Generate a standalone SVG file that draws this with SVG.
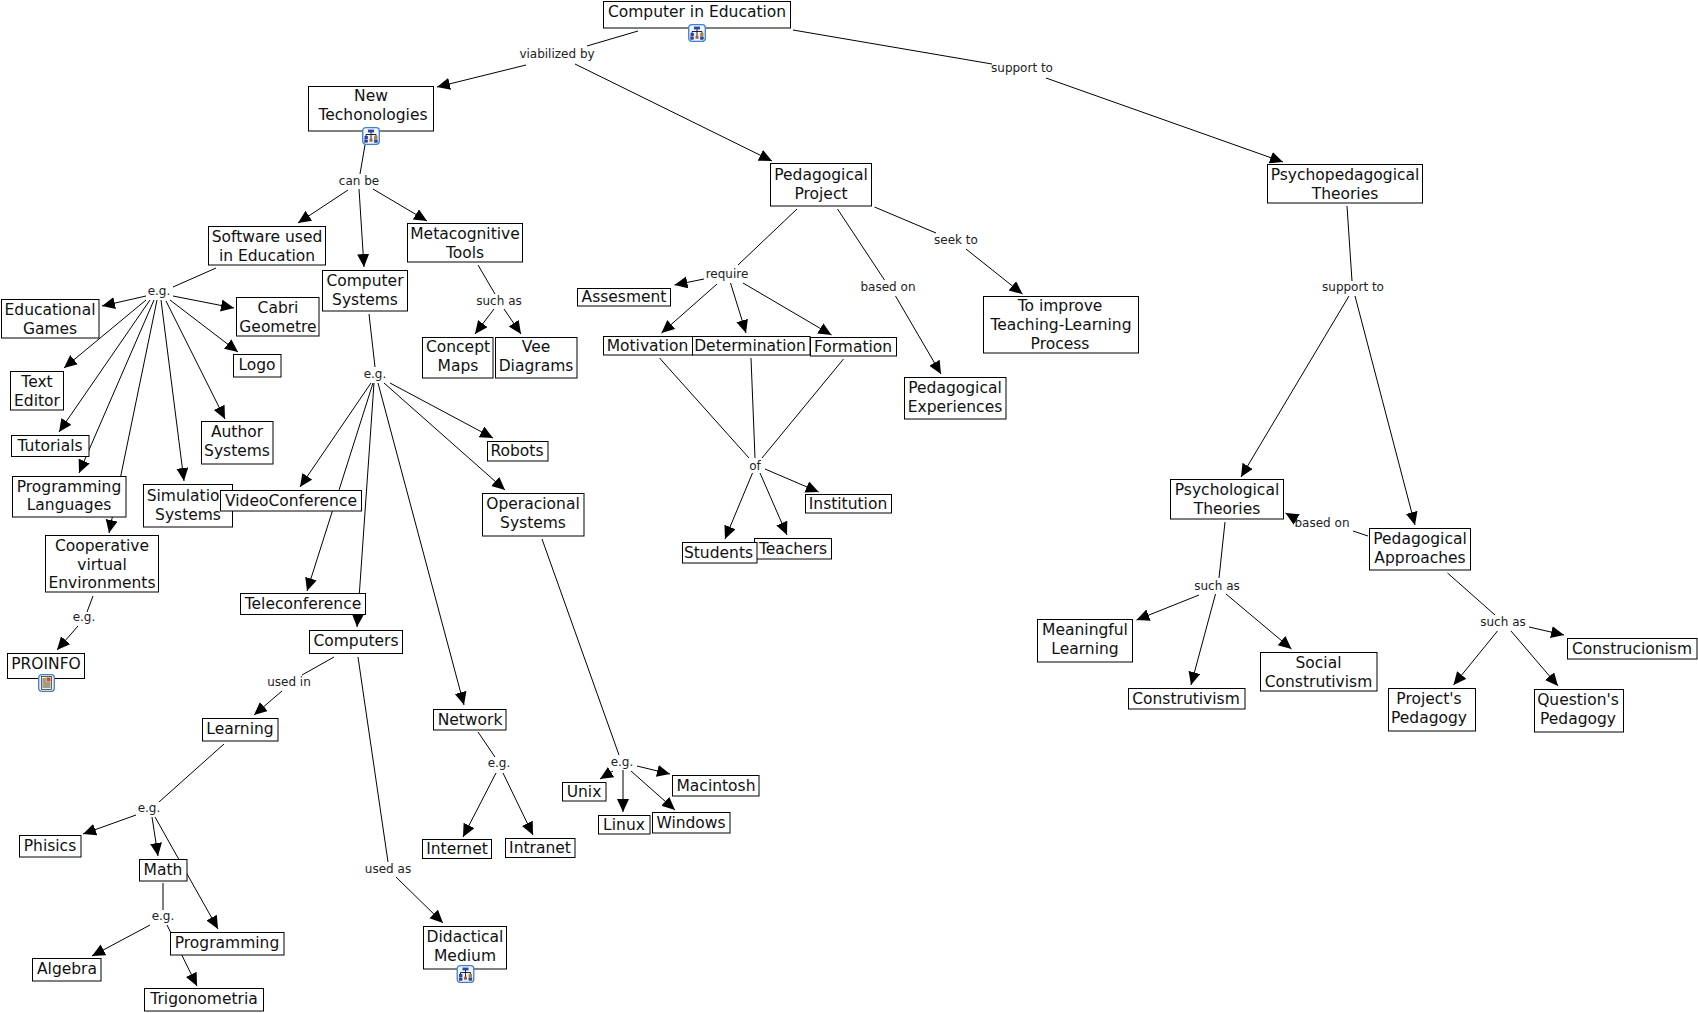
<svg xmlns="http://www.w3.org/2000/svg" xmlns:xlink="http://www.w3.org/1999/xlink" width="1698" height="1013" viewBox="0 0 1698 1013">
<style>
text{font-family:"DejaVu Sans","Liberation Sans",sans-serif}
.t{font-size:15.5px;fill:#111;text-anchor:middle;transform:translateY(-.7px)}
.l{font-size:12px;fill:#222;text-anchor:middle}
rect.b{fill:#fff;stroke:#000;stroke-width:1}
#connectors line{stroke:#000;stroke-width:1;fill:none}
#connectors line.a{marker-end:url(#h)}
</style>
<defs>
<marker id="h" markerUnits="userSpaceOnUse" markerWidth="14" markerHeight="13" refX="13" refY="6" orient="auto"><path d="M0,0L13,6L0,12Z" fill="#000"/></marker>
<symbol id="ic" viewBox="0 0 18 18" overflow="visible">
<rect x="0.7" y="0.7" width="16.6" height="16.6" rx="3" fill="#eef4ff" stroke="#3f80d0" stroke-width="1.3"/>
<path d="M9,5V12M4,10V7.5H14V10" stroke="#223" stroke-width="1" fill="none"/>
<rect x="6" y="2.6" width="6" height="2.8" fill="#2a45a8"/>
<rect x="2.5" y="9" width="3.4" height="3" fill="#2a45a8"/>
<rect x="12.1" y="9" width="3.4" height="3" fill="#a88a30"/>
<rect x="2.6" y="12.8" width="3" height="2.6" fill="#2a45a8" stroke="#223" stroke-width=".4"/><rect x="7.5" y="11.8" width="3" height="3" fill="#b06040"/><rect x="12.4" y="12.8" width="3" height="2.6" fill="#2a45a8" stroke="#223" stroke-width=".4"/>
</symbol>
<symbol id="doc" viewBox="0 0 17 18" overflow="visible">
<rect x="0.7" y="0.7" width="15.6" height="16.6" rx="3" fill="#eef4ff" stroke="#3f80d0" stroke-width="1.3"/>
<rect x="3.5" y="2.5" width="10" height="13" fill="#f6f0c8" stroke="#222" stroke-width="0.7"/>
<rect x="8.5" y="3.5" width="4" height="4" fill="#c05040"/>
<path d="M4.5,5H8M4.5,7H8M4.5,9H12.5M4.5,11H12.5M4.5,13H12.5" stroke="#222" stroke-width="0.8"/>
</symbol>
</defs>
<rect width="1698" height="1013" fill="#fff"/>
<g id="connectors">
<line x1="638" y1="31" x2="587" y2="46"/>
<line class="a" x1="526" y1="65" x2="437" y2="87"/>
<line class="a" x1="575" y1="64" x2="772" y2="161"/>
<line x1="793" y1="30" x2="992" y2="64"/>
<line class="a" x1="1046" y1="78" x2="1283" y2="162"/>
<line x1="1347" y1="206" x2="1352" y2="281"/>
<line class="a" x1="1349" y1="296" x2="1241" y2="477"/>
<line class="a" x1="1355" y1="296" x2="1415" y2="525"/>
<line x1="1368" y1="536" x2="1353" y2="531"/>
<line class="a" x1="1297.5" y1="520" x2="1285.5" y2="513"/>
<line x1="1225" y1="522" x2="1219" y2="578"/>
<line class="a" x1="1199" y1="595" x2="1136.5" y2="620"/>
<line class="a" x1="1215.5" y1="594" x2="1191" y2="685"/>
<line class="a" x1="1226" y1="594" x2="1291.5" y2="649"/>
<line x1="1447.5" y1="573" x2="1495" y2="615"/>
<line class="a" x1="1529" y1="627" x2="1564" y2="635"/>
<line class="a" x1="1497.5" y1="631" x2="1453.5" y2="685"/>
<line class="a" x1="1511" y1="631" x2="1558" y2="686"/>
<line x1="797" y1="209" x2="738" y2="265"/>
<line class="a" x1="704" y1="279" x2="674.5" y2="285"/>
<line class="a" x1="717" y1="284" x2="661.5" y2="333"/>
<line class="a" x1="730.5" y1="283" x2="746" y2="333"/>
<line class="a" x1="743" y1="283" x2="831.5" y2="335"/>
<line x1="837.5" y1="209" x2="884.5" y2="280"/>
<line class="a" x1="895.5" y1="296" x2="941" y2="374"/>
<line x1="874.5" y1="207" x2="936" y2="233"/>
<line class="a" x1="966" y1="249" x2="1022.5" y2="294"/>
<line x1="659.5" y1="358" x2="749" y2="458"/>
<line x1="751" y1="358" x2="755" y2="458"/>
<line x1="843.5" y1="359" x2="762" y2="458"/>
<line class="a" x1="765" y1="469" x2="818.7" y2="492"/>
<line class="a" x1="752.5" y1="473" x2="725" y2="539"/>
<line class="a" x1="760" y1="473" x2="787" y2="535"/>
<line x1="365" y1="145" x2="360" y2="174"/>
<line class="a" x1="348" y1="190" x2="298" y2="223"/>
<line class="a" x1="359" y1="189" x2="364" y2="267"/>
<line class="a" x1="373" y1="189" x2="427" y2="221"/>
<line x1="216" y1="268" x2="173" y2="287"/>
<line class="a" x1="146" y1="296" x2="102" y2="306"/>
<line class="a" x1="173" y1="296" x2="234" y2="308"/>
<line class="a" x1="170" y1="300" x2="238" y2="352"/>
<line class="a" x1="166" y1="301" x2="225" y2="419"/>
<line class="a" x1="146" y1="300" x2="64" y2="368"/>
<line class="a" x1="150" y1="300" x2="59" y2="432"/>
<line class="a" x1="154" y1="300" x2="79" y2="473"/>
<line class="a" x1="157" y1="300" x2="109" y2="533"/>
<line class="a" x1="161" y1="300" x2="184" y2="481"/>
<line x1="93" y1="596" x2="87" y2="612"/>
<line class="a" x1="78" y1="626" x2="57" y2="650"/>
<line x1="369" y1="314" x2="375" y2="367"/>
<line class="a" x1="390" y1="383" x2="493" y2="438"/>
<line class="a" x1="384" y1="383" x2="505" y2="490"/>
<line class="a" x1="371" y1="383" x2="300" y2="487"/>
<line class="a" x1="373" y1="383" x2="307" y2="591"/>
<line class="a" x1="374" y1="383" x2="357" y2="627"/>
<line class="a" x1="378" y1="383" x2="464" y2="705"/>
<line x1="478" y1="265" x2="495" y2="294"/>
<line class="a" x1="494" y1="309" x2="475" y2="334"/>
<line class="a" x1="504" y1="309" x2="521" y2="334"/>
<line x1="542" y1="539" x2="619" y2="755"/>
<line class="a" x1="613" y1="771" x2="600" y2="779"/>
<line class="a" x1="623" y1="770" x2="623" y2="812"/>
<line class="a" x1="631" y1="771" x2="675" y2="810"/>
<line class="a" x1="637" y1="766" x2="670" y2="774"/>
<line x1="478" y1="732" x2="495" y2="757"/>
<line class="a" x1="496" y1="773" x2="463" y2="837"/>
<line class="a" x1="503" y1="773" x2="533" y2="835"/>
<line x1="334" y1="657" x2="302" y2="675"/>
<line class="a" x1="282" y1="691" x2="254" y2="715"/>
<line x1="358" y1="657" x2="388" y2="862"/>
<line class="a" x1="396" y1="877" x2="443" y2="923"/>
<line x1="224" y1="744" x2="159" y2="802"/>
<line class="a" x1="136" y1="815" x2="83" y2="834"/>
<line class="a" x1="152" y1="817" x2="158" y2="856"/>
<line class="a" x1="155" y1="817" x2="218" y2="929"/>
<line x1="163" y1="883" x2="163" y2="910"/>
<line class="a" x1="150" y1="925" x2="92" y2="956"/>
<line class="a" x1="167" y1="925" x2="197" y2="986"/>
</g>
<g id="n-computer-in-education"><rect class="b" x="603.5" y="1.5" width="187" height="26.5"/><text class="t" x="697" y="18">Computer in Education</text><use xlink:href="#ic" href="#ic" x="688" y="24" width="18" height="18"/></g>
<g id="n-new-technologies"><rect class="b" x="308.5" y="86.5" width="125" height="44.5"/><text class="t" x="371" y="102">New</text><text class="t" x="373" y="121">Techonologies</text><use xlink:href="#ic" href="#ic" x="362" y="127" width="18" height="18"/></g>
<g id="n-pedagogical-project"><rect class="b" x="770.5" y="163.5" width="101" height="42.5"/><text class="t" x="821" y="181">Pedagogical</text><text class="t" x="821" y="199.5">Project</text></g>
<g id="n-psychopedagogical"><rect class="b" x="1267.5" y="164.5" width="155" height="38.5"/><text class="t" x="1345" y="181">Psychopedagogical</text><text class="t" x="1345" y="199.5">Theories</text></g>
<g id="n-software"><rect class="b" x="208.5" y="226.5" width="117" height="38.5"/><text class="t" x="267" y="243">Software used</text><text class="t" x="267" y="262">in Education</text></g>
<g id="n-metacognitive"><rect class="b" x="407.5" y="223.5" width="115" height="38.5"/><text class="t" x="465" y="240">Metacognitive</text><text class="t" x="465" y="258.5">Tools</text></g>
<g id="n-computer-systems"><rect class="b" x="322.5" y="270.5" width="85" height="40.5"/><text class="t" x="365" y="287">Computer</text><text class="t" x="365" y="306">Systems</text></g>
<g id="n-educational-games"><rect class="b" x="1.5" y="299.5" width="97.5" height="38.5"/><text class="t" x="50" y="316">Educational</text><text class="t" x="50" y="334.5">Games</text></g>
<g id="n-cabri"><rect class="b" x="236.5" y="297.5" width="82.5" height="38.5"/><text class="t" x="278" y="314">Cabri</text><text class="t" x="278" y="333">Geometre</text></g>
<g id="n-logo"><rect class="b" x="233.5" y="354.5" width="47.5" height="22.5"/><text class="t" x="257" y="371">Logo</text></g>
<g id="n-text-editor"><rect class="b" x="10.5" y="371.5" width="53" height="38.5"/><text class="t" x="37" y="388">Text</text><text class="t" x="37" y="406.5">Editor</text></g>
<g id="n-tutorials"><rect class="b" x="11.5" y="435.5" width="77.5" height="21"/><text class="t" x="50" y="452">Tutorials</text></g>
<g id="n-author"><rect class="b" x="201.5" y="421.5" width="71.5" height="42.5"/><text class="t" x="237" y="438">Author</text><text class="t" x="237" y="457">Systems</text></g>
<g id="n-programming-languages"><rect class="b" x="12.5" y="476.5" width="113.5" height="40.5"/><text class="t" x="69" y="492.5">Programming</text><text class="t" x="69" y="511">Languages</text></g>
<g id="n-simulation"><rect class="b" x="143.5" y="484.5" width="89" height="42.5"/><text class="t" x="188" y="502">Simulation</text><text class="t" x="188" y="521">Systems</text></g>
<g id="n-videoconference"><rect class="b" x="220.5" y="490.5" width="141" height="20.5"/><text class="t" x="291" y="507">VideoConference</text></g>
<g id="n-cooperative"><rect class="b" x="45.5" y="535.5" width="113" height="56.5"/><text class="t" x="102" y="552">Cooperative</text><text class="t" x="102" y="570.5">virtual</text><text class="t" x="102" y="589">Environments</text></g>
<g id="n-proinfo"><rect class="b" x="7.5" y="653.5" width="77" height="25"/><text class="t" x="46" y="670">PROINFO</text><use xlink:href="#doc" href="#doc" x="38" y="674" width="17" height="18"/></g>
<g id="n-teleconference"><rect class="b" x="240.5" y="593.5" width="125" height="21"/><text class="t" x="303" y="610">Teleconference</text></g>
<g id="n-computers"><rect class="b" x="309.5" y="630.5" width="93" height="23"/><text class="t" x="356" y="647">Computers</text></g>
<g id="n-learning"><rect class="b" x="202.5" y="718.5" width="75.5" height="22.5"/><text class="t" x="240" y="735">Learning</text></g>
<g id="n-phisics"><rect class="b" x="19.5" y="835.5" width="61.5" height="21.5"/><text class="t" x="50" y="852">Phisics</text></g>
<g id="n-math"><rect class="b" x="139.5" y="859.5" width="47.5" height="21.5"/><text class="t" x="163" y="876">Math</text></g>
<g id="n-programming"><rect class="b" x="170.5" y="932.5" width="113.5" height="22.5"/><text class="t" x="227" y="949">Programming</text></g>
<g id="n-algebra"><rect class="b" x="32.5" y="958.5" width="68.5" height="22.5"/><text class="t" x="67" y="975">Algebra</text></g>
<g id="n-trigonometria"><rect class="b" x="144.5" y="988.5" width="119" height="22.5"/><text class="t" x="204" y="1005">Trigonometria</text></g>
<g id="n-didactical"><rect class="b" x="423.5" y="926.5" width="83" height="42.5"/><text class="t" x="465" y="943">Didactical</text><text class="t" x="465" y="961.5">Medium</text><use xlink:href="#ic" href="#ic" x="456.5" y="965" width="18" height="18"/></g>
<g id="n-network"><rect class="b" x="433.5" y="709.5" width="72.5" height="20.5"/><text class="t" x="470" y="726">Network</text></g>
<g id="n-internet"><rect class="b" x="422.5" y="839.5" width="69" height="19"/><text class="t" x="457" y="855">Internet</text></g>
<g id="n-intranet"><rect class="b" x="505.5" y="838.5" width="69.5" height="19"/><text class="t" x="540" y="854">Intranet</text></g>
<g id="n-operacional"><rect class="b" x="482.5" y="493.5" width="101.5" height="42.5"/><text class="t" x="533" y="510">Operacional</text><text class="t" x="533" y="529">Systems</text></g>
<g id="n-robots"><rect class="b" x="487.5" y="441.5" width="60.5" height="19.5"/><text class="t" x="517" y="457">Robots</text></g>
<g id="n-concept"><rect class="b" x="422.5" y="337.5" width="70.5" height="40.5"/><text class="t" x="458" y="353">Concept</text><text class="t" x="458" y="372">Maps</text></g>
<g id="n-vee"><rect class="b" x="495.5" y="337.5" width="81.5" height="40.5"/><text class="t" x="536" y="353">Vee</text><text class="t" x="536" y="372">Diagrams</text></g>
<g id="n-assesment"><rect class="b" x="577.5" y="288.5" width="93" height="17.5"/><text class="t" x="624" y="303">Assesment</text></g>
<g id="n-motivation"><rect class="b" x="603.5" y="336.5" width="89" height="18.5"/><text class="t" x="647.5" y="352">Motivation</text></g>
<g id="n-determination"><rect class="b" x="692.5" y="336.5" width="117.5" height="18.5"/><text class="t" x="750" y="352">Determination</text></g>
<g id="n-formation"><rect class="b" x="810.5" y="337.5" width="86" height="18.5"/><text class="t" x="853" y="353">Formation</text></g>
<g id="n-pedagogical-experiences"><rect class="b" x="904.5" y="377.5" width="101.5" height="41.5"/><text class="t" x="955" y="394">Pedagogical</text><text class="t" x="955" y="413">Experiences</text></g>
<g id="n-to-improve"><rect class="b" x="983.5" y="296.5" width="155" height="56.5"/><text class="t" x="1060" y="312">To improve</text><text class="t" x="1061" y="331">Teaching-Learning</text><text class="t" x="1060" y="350">Process</text></g>
<g id="n-institution"><rect class="b" x="805.5" y="494.5" width="86" height="18.5"/><text class="t" x="848" y="510">Institution</text></g>
<g id="n-teachers"><rect class="b" x="754.5" y="538.5" width="77" height="20.5"/><text class="t" x="793" y="555">Teachers</text></g>
<g id="n-students"><rect class="b" x="682.5" y="542.5" width="74.5" height="20.5"/><text class="t" x="718.5" y="559">Students</text></g>
<g id="n-psychological"><rect class="b" x="1170.5" y="479.5" width="113" height="39.5"/><text class="t" x="1227" y="496">Psychological</text><text class="t" x="1227" y="515">Theories</text></g>
<g id="n-pedagogical-approaches"><rect class="b" x="1369.5" y="528.5" width="101" height="41.5"/><text class="t" x="1420" y="545">Pedagogical</text><text class="t" x="1420" y="563.5">Approaches</text></g>
<g id="n-meaningful"><rect class="b" x="1037.5" y="619.5" width="95" height="42.5"/><text class="t" x="1085" y="636">Meaningful</text><text class="t" x="1085" y="655">Learning</text></g>
<g id="n-construtivism"><rect class="b" x="1128.5" y="688.5" width="116.5" height="20.5"/><text class="t" x="1186" y="705">Construtivism</text></g>
<g id="n-social"><rect class="b" x="1260.5" y="652.5" width="116.5" height="38.5"/><text class="t" x="1318.5" y="669">Social</text><text class="t" x="1318.5" y="687.5">Construtivism</text></g>
<g id="n-projects"><rect class="b" x="1388.5" y="688.5" width="87" height="42.5"/><text class="t" x="1429" y="705">Project's</text><text class="t" x="1429" y="724">Pedagogy</text></g>
<g id="n-questions"><rect class="b" x="1534.5" y="689.5" width="89" height="42.5"/><text class="t" x="1578" y="706">Question's</text><text class="t" x="1578" y="725">Pedagogy</text></g>
<g id="n-construcionism"><rect class="b" x="1567.5" y="638.5" width="129.5" height="20.5"/><text class="t" x="1632" y="655">Construcionism</text></g>
<g id="n-unix"><rect class="b" x="562.5" y="782.5" width="43.5" height="18.5"/><text class="t" x="584" y="798">Unix</text></g>
<g id="n-linux"><rect class="b" x="598.5" y="815.5" width="51.5" height="18.5"/><text class="t" x="624" y="831">Linux</text></g>
<g id="n-windows"><rect class="b" x="652.5" y="812.5" width="77.5" height="20.5"/><text class="t" x="691" y="829">Windows</text></g>
<g id="n-macintosh"><rect class="b" x="672.5" y="775.5" width="86.5" height="20.5"/><text class="t" x="716" y="792">Macintosh</text></g>
<g id="labels">
<text class="l" x="557" y="58">viabilized by</text>
<text class="l" x="1022" y="72">support to</text>
<text class="l" x="1353" y="291">support to</text>
<text class="l" x="1322" y="527">based on</text>
<text class="l" x="1217" y="590">such as</text>
<text class="l" x="1503" y="626">such as</text>
<text class="l" x="727" y="277.5">require</text>
<text class="l" x="888" y="291">based on</text>
<text class="l" x="956" y="244">seek to</text>
<text class="l" x="755" y="470">of</text>
<text class="l" x="359" y="185">can be</text>
<text class="l" x="159" y="295">e.g.</text>
<text class="l" x="84" y="621">e.g.</text>
<text class="l" x="375" y="378">e.g.</text>
<text class="l" x="499" y="305">such as</text>
<text class="l" x="622" y="766">e.g.</text>
<text class="l" x="499" y="767">e.g.</text>
<text class="l" x="289" y="686">used in</text>
<text class="l" x="388" y="873">used as</text>
<text class="l" x="149" y="812">e.g.</text>
<text class="l" x="163" y="920">e.g.</text>
</g>
</svg>
